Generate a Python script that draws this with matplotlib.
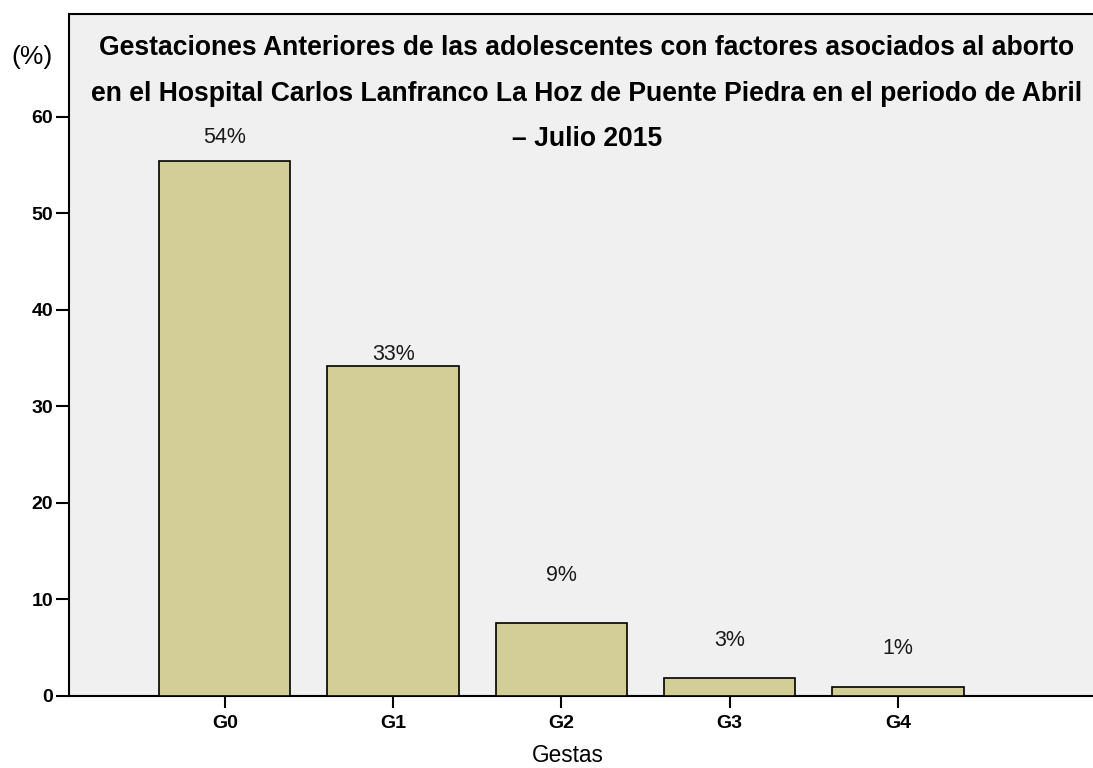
import matplotlib
matplotlib.use("Agg")
import matplotlib.pyplot as plt

# ---- data ----
categories = ["G0", "G1", "G2", "G3", "G4"]
values = [55.4, 34.2, 7.6, 1.9, 0.9]
value_labels = ["54%", "33%", "9%", "3%", "1%"]
yticks = [0, 10, 20, 30, 40, 50, 60]

# ---- layout (label offsets above bar tops, pixels) ----
label_offsets_px = [24, 11, 47, 37, 39]

plt.rcParams['font.family'] = ['Liberation Sans', 'DejaVu Sans']

W, H = 1093, 768
fig = plt.figure(figsize=(W / 100, H / 100), dpi=100)
fig.patch.set_facecolor("white")

ax = fig.add_axes([69 / W, 1 - 696 / H, (W - 69) / W, (696 - 14) / H])
ax.set_facecolor("#F0F0F0")

x = list(range(len(categories)))
ax.bar(x, values, width=0.78, color="#D3CE98", edgecolor="black", linewidth=1.2, zorder=3)

ax.set_xlim(-0.926, 5.159)
ax.set_ylim(0, 70.67)

for xi, v, lab, off in zip(x, values, value_labels, label_offsets_px):
    ax.annotate(lab, (xi, v), xytext=(0, off * 0.72), textcoords="offset points",
                ha="center", va="center", fontsize=15.5, color="#1a1a1a")

ax.set_xticks(x)
ax.set_xticklabels(categories, fontsize=14, fontweight="bold")
ax.set_yticks(yticks)
ax.set_yticklabels([str(t) for t in yticks], fontsize=14, fontweight="bold")
ax.tick_params(axis="y", length=9.4, width=1.5, direction="out", pad=2)
ax.tick_params(axis="x", length=8.6, width=1.5, direction="out", pad=5)

for s in ["left", "bottom", "top"]:
    ax.spines[s].set_linewidth(1.5)
    ax.spines[s].set_color("black")
ax.spines["right"].set_visible(False)

fig.text(32 / W, 1 - 57 / H, "(%)", fontsize=19, ha="center", va="center")
fig.text(568 / W, 1 - 755 / H, "Gestas", fontsize=16.3, ha="center", va="center")

title_lines = [
    "Gestaciones Anteriores de las adolescentes con factores asociados al aborto",
    "en el Hospital Carlos Lanfranco La Hoz de Puente Piedra en el periodo de Abril",
    "– Julio 2015",
]
title_y_px = [48, 94, 139]
for line, ty in zip(title_lines, title_y_px):
    fig.text(587 / W, 1 - ty / H, line, fontsize=19.1, fontweight="bold", ha="center", va="center")

fig.savefig("out.png", dpi=100)
